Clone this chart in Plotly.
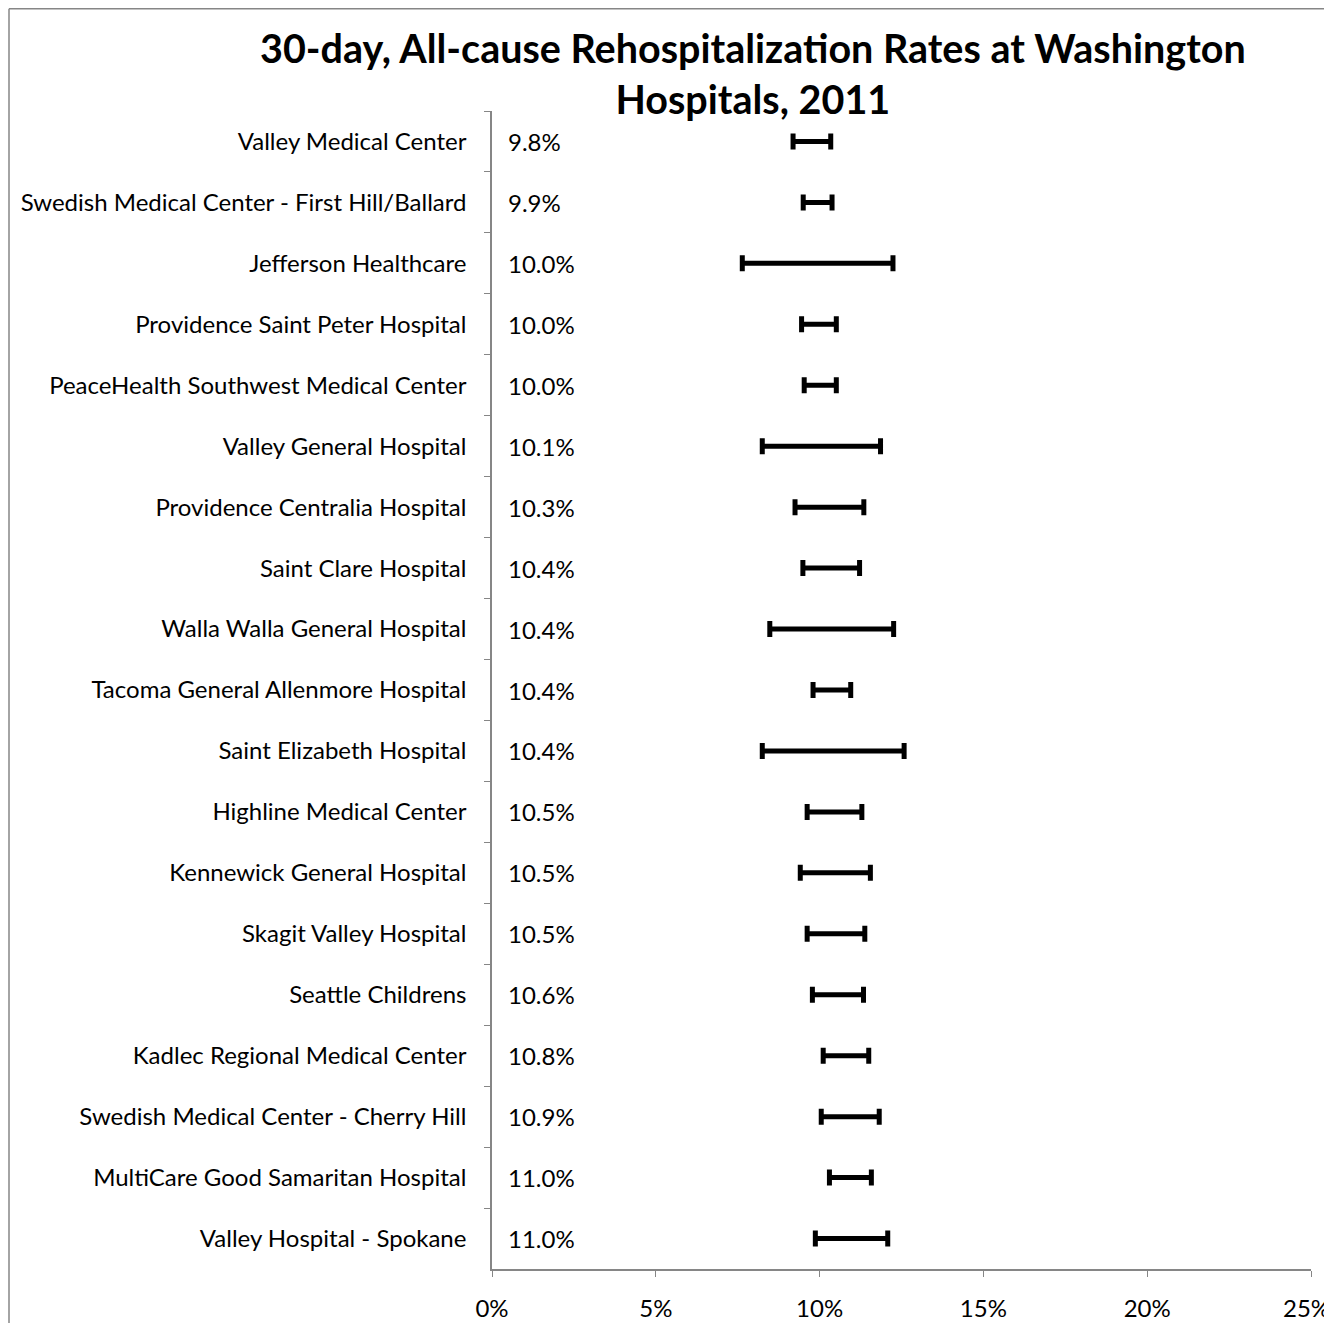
import plotly.graph_objects as go

hospitals = [
    "Valley Medical Center",
    "Swedish Medical Center - First Hill/Ballard",
    "Jefferson Healthcare",
    "Providence Saint Peter Hospital",
    "PeaceHealth Southwest Medical Center",
    "Valley General Hospital",
    "Providence Centralia Hospital",
    "Saint Clare Hospital",
    "Walla Walla General Hospital",
    "Tacoma General Allenmore Hospital",
    "Saint Elizabeth Hospital",
    "Highline Medical Center",
    "Kennewick General Hospital",
    "Skagit Valley Hospital",
    "Seattle Childrens",
    "Kadlec Regional Medical Center",
    "Swedish Medical Center - Cherry Hill",
    "MultiCare Good Samaritan Hospital",
    "Valley Hospital - Spokane",
]
rate = [9.8, 9.9, 10.0, 10.0, 10.0, 10.1, 10.3, 10.4, 10.4, 10.4,
        10.4, 10.5, 10.5, 10.5, 10.6, 10.8, 10.9, 11.0, 11.0]
lower = [9.19, 9.50, 7.64, 9.45, 9.53, 8.25, 9.25, 9.49, 8.48, 9.80,
         8.25, 9.62, 9.41, 9.62, 9.78, 10.11, 10.05, 10.30, 9.87]
upper = [10.34, 10.38, 12.24, 10.51, 10.51, 11.86, 11.35, 11.22, 12.26, 10.95,
         12.58, 11.29, 11.55, 11.38, 11.34, 11.50, 11.82, 11.58, 12.08]
x_ticks = [0, 5, 10, 15, 20, 25]
x_tick_labels = ["0%", "5%", "10%", "15%", "20%", "25%"]

FONT = "Lato, Open Sans, sans-serif"
AXIS = "#868686"

# figure is offset by the page's 8px body margin
W, H = 1324, 1315
ML, MR, MT, MB = 484, 21, 103, 54
PW = W - ML - MR
PH = H - MT - MB


def px_x(p):
    return (p - ML) / PW


def px_y(p):
    return (MT + PH - p) / PH


fig = go.Figure()
fig.add_trace(go.Scatter(
    x=rate, y=hospitals, mode="markers",
    marker=dict(size=1, opacity=0),
    error_x=dict(type="data", symmetric=False,
                 array=[u - r for u, r in zip(upper, rate)],
                 arrayminus=[r - l for r, l in zip(rate, lower)],
                 color="black", thickness=5, width=8),
    showlegend=False, hoverinfo="skip",
))

annotations = []
for h, r in zip(hospitals, rate):
    annotations.append(dict(x=0, y=h, xref="x", yref="y", text=f"{r:.1f}%",
                            showarrow=False, xanchor="left", xshift=14,
                            font=dict(size=24, color="black", family=FONT)))

# last x tick label sits at the figure's right edge (the axis hides it otherwise)
annotations.append(dict(x=px_x(W), y=0, xref="paper", yref="paper",
                        text=x_tick_labels[-1], showarrow=False,
                        xanchor="right", yanchor="middle", yshift=-38,
                        font=dict(size=24, color="black", family=FONT)))

annotations.append(dict(
    x=px_x(745), y=1, xref="paper", yref="paper", yshift=38,
    text="<b>30-day, All-cause Rehospitalization Rates at Washington<br>Hospitals, 2011</b>",
    showarrow=False, xanchor="center", yanchor="middle",
    font=dict(size=39.5, color="black", family=FONT)))

fig.update_layout(
    width=W, height=H,
    margin=dict(l=ML, r=MR, t=MT, b=MB, autoexpand=False),
    paper_bgcolor="white", plot_bgcolor="white",
    annotations=annotations,
    shapes=[
        dict(type="line", xref="paper", yref="paper",
             x0=px_x(1), x1=px_x(W - 1), y0=px_y(0.75), y1=px_y(0.75),
             line=dict(color=AXIS, width=1.5)),
        dict(type="line", xref="paper", yref="paper",
             x0=px_x(1), x1=px_x(1), y0=px_y(0.75), y1=px_y(H),
             line=dict(color=AXIS, width=1.5)),
    ],
    xaxis=dict(range=[0, 25], tickvals=x_ticks, ticktext=x_tick_labels,
               automargin=False,
               showgrid=False, zeroline=False, showline=True, linecolor=AXIS,
               linewidth=1.5, ticks="outside", ticklen=6, tickcolor=AXIS,
               tickfont=dict(size=24, color="black", family=FONT),
               ticklabelstandoff=11),
    yaxis=dict(categoryorder="array", categoryarray=hospitals, range=[18.5, -0.5],
               automargin=False,
               showgrid=False, zeroline=False, showline=True, linecolor=AXIS,
               linewidth=1.5, ticks="outside", ticklen=6, tickcolor=AXIS,
               tickson="boundaries",
               tickfont=dict(size=24, color="black", family=FONT),
               ticklabelstandoff=19),
)

fig.write_html("out.html")
